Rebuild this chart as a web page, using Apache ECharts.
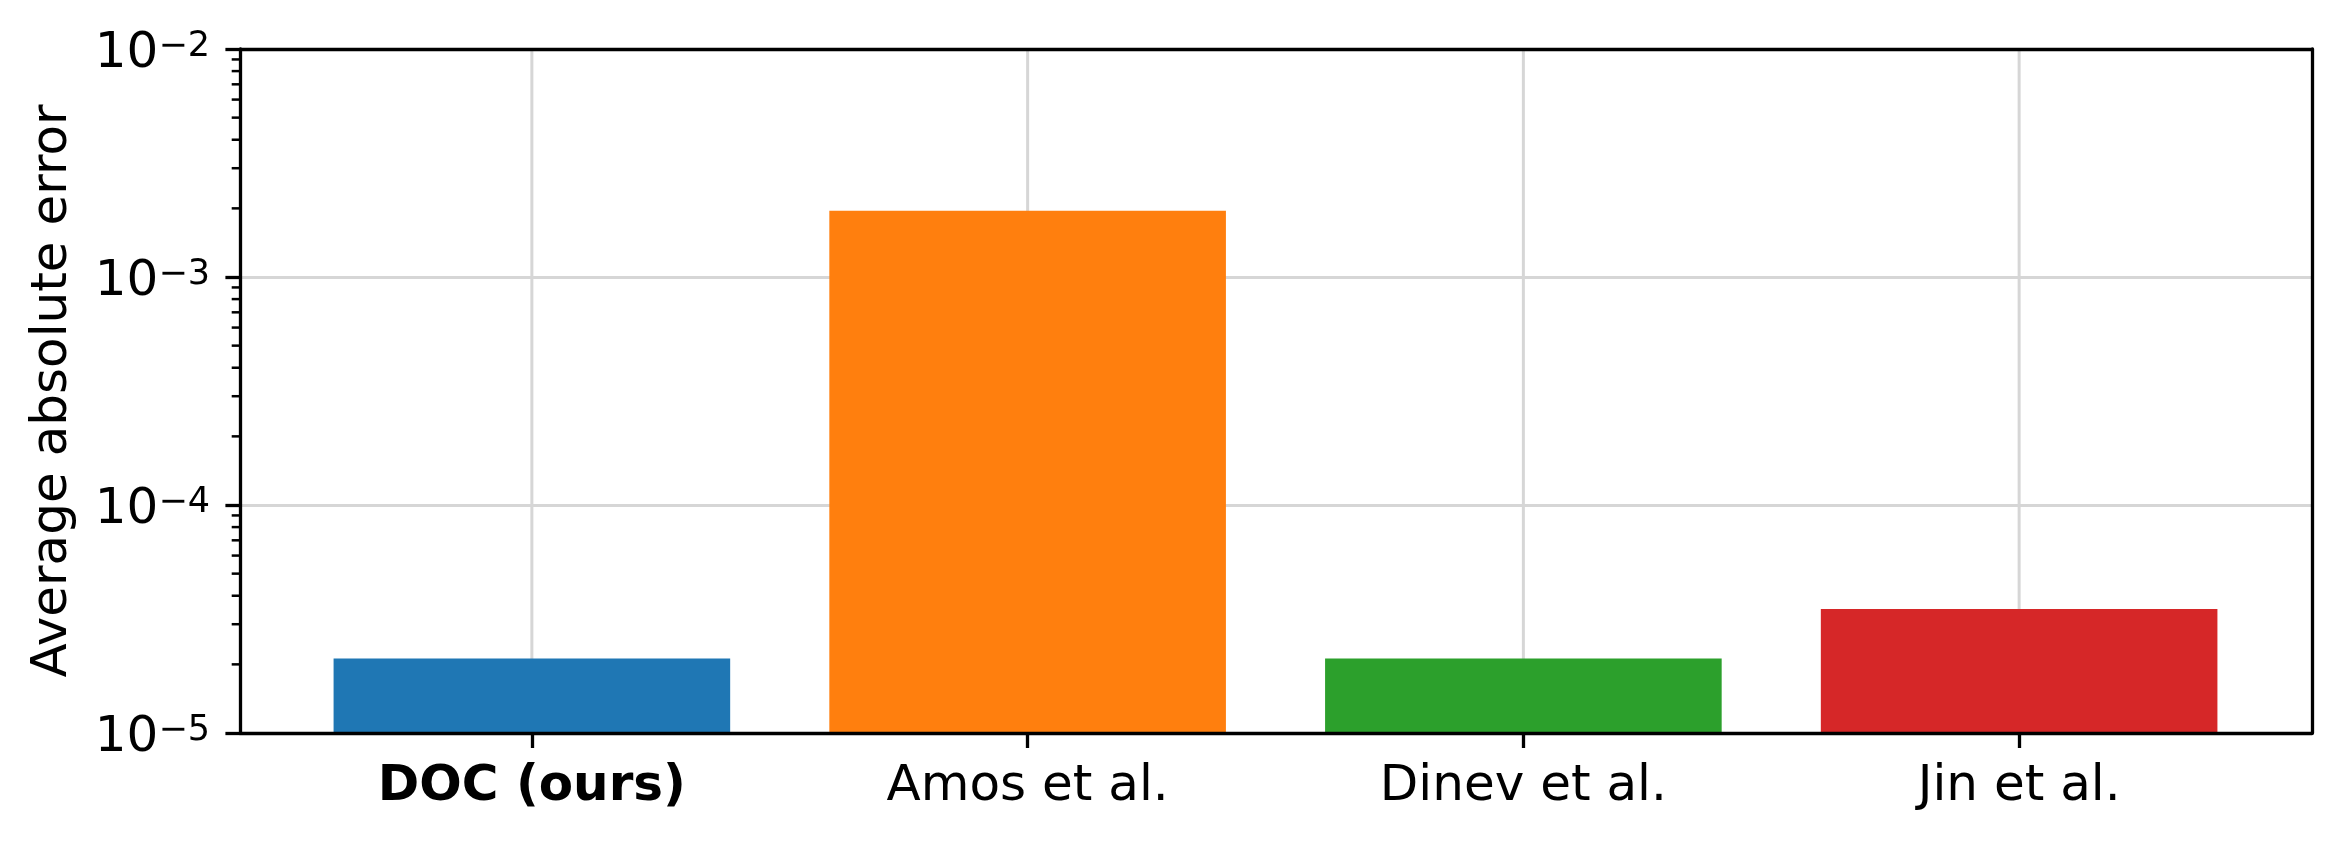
<!DOCTYPE html>
<html><head><meta charset="utf-8">
<script src="https://cdn.jsdelivr.net/npm/echarts@6/dist/echarts.min.js"></script>
<style>html,body{margin:0;padding:0;background:#fff}#c{width:2342px;height:841px}</style>
</head><body><div id="c"></div>
<script>
// ---- data ----
const categories = ['DOC (ours)', 'Amos et al.', 'Dinev et al.', 'Jin et al.'];
const boldCategory = 'DOC (ours)';
const errors = [2.12e-5, 1.95e-3, 2.12e-5, 3.50e-5];
const barColors = ['#1f77b4', '#ff7f0e', '#2ca02c', '#d62728'];
const yMin = 1e-5;
const yMax = 1e-2;
const minorTickValues = [
  2e-5, 3e-5, 4e-5, 5e-5, 6e-5, 7e-5, 8e-5, 9e-5,
  2e-4, 3e-4, 4e-4, 5e-4, 6e-4, 7e-4, 8e-4, 9e-4,
  2e-3, 3e-3, 4e-3, 5e-3, 6e-3, 7e-3, 8e-3, 9e-3
];
const yAxisTitle = 'Average absolute error';

// ---- chart ----
const FONT = 'DejaVu Sans';
const chart = echarts.init(document.getElementById('c'), null, {renderer: 'canvas'});
const spine = {show: true, onZero: false, lineStyle: {color: '#000', width: 3.3}};
const off = {show: false};

const option = {
  animation: false,
  backgroundColor: '#fff',
  grid: [
    {left: 240, top: 49, width: 2072, height: 684},
    {left: 284, top: 49, width: 1983, height: 684}
  ],
  xAxis: [
    {gridIndex: 0, type: 'value', min: 0, max: 1, position: 'bottom', z: 10,
     axisLine: spine, axisTick: off, axisLabel: off, splitLine: off},
    {gridIndex: 0, type: 'value', min: 0, max: 1, position: 'top', z: 10,
     axisLine: spine, axisTick: off, axisLabel: off, splitLine: off},
    {gridIndex: 1, type: 'category', position: 'bottom',
     data: categories.map(c => c === boldCategory
        ? {value: c, textStyle: {fontWeight: 'bold'}} : c),
     axisLine: off,
     axisTick: {show: true, alignWithLabel: true, length: 15, lineStyle: {color: '#000', width: 3.3}},
     axisLabel: {fontFamily: FONT, fontSize: 50, color: '#000', margin: 29, interval: 0},
     splitLine: off}
  ],
  yAxis: [
    {gridIndex: 0, type: 'log', logBase: 10, min: yMin, max: yMax, position: 'left',
     axisLine: spine,
     axisTick: {show: true, length: 14.6, lineStyle: {color: '#000', width: 3.3}},
     minorTick: off,
     splitLine: {show: true, lineStyle: {color: '#d6d6d6', width: 3}},
     axisLabel: {
       margin: 30, color: '#000', fontFamily: FONT, padding: [10, 0, 0, 0],
       formatter: v => '{b|10}{s|\u2212' + Math.abs(Math.round(Math.log10(v))) + '}',
       rich: {
         b: {fontFamily: FONT, fontSize: 50, lineHeight: 50, color: '#000'},
         s: {fontFamily: FONT, fontSize: 35, lineHeight: 20, verticalAlign: 'top', color: '#000'}
       }
     },
     name: yAxisTitle, nameLocation: 'middle', nameGap: 162,
     nameTextStyle: {fontFamily: FONT, fontSize: 50, color: '#000'}},
    {gridIndex: 0, type: 'value', min: 0, max: 1, position: 'right', z: 10,
     axisLine: spine, axisTick: off, axisLabel: off, splitLine: off},
    {gridIndex: 1, type: 'log', logBase: 10, min: yMin, max: yMax, show: false}
  ],
  series: [
    { // vertical grid lines at category positions
      type: 'custom', xAxisIndex: 2, yAxisIndex: 2, z: 1, silent: true,
      data: categories.map((c, i) => [i, yMax]),
      renderItem: (params, api) => {
        const cs = params.coordSys;
        const x = api.coord([api.value(0), yMax])[0];
        return {type: 'line', shape: {x1: x, y1: cs.y, x2: x, y2: cs.y + cs.height},
                style: {stroke: '#d6d6d6', lineWidth: 3}};
      }
    },
    { // bars
      type: 'custom', xAxisIndex: 2, yAxisIndex: 2, z: 2, silent: true,
      data: errors.map((v, i) => [i, v]),
      renderItem: (params, api) => {
        const cs = params.coordSys;
        const i = api.value(0);
        const top = api.coord([i, api.value(1)]);
        const base = api.coord([i, yMin]);
        const w = cs.width / categories.length * 0.8;
        return {type: 'rect',
                shape: {x: top[0] - w / 2, y: top[1], width: w, height: base[1] - top[1]},
                style: {fill: barColors[i]}};
      }
    },
    { // minor ticks of the log axis
      type: 'custom', xAxisIndex: 0, yAxisIndex: 0, z: 3, silent: true, clip: false,
      data: minorTickValues.map(v => [0, v]),
      renderItem: (params, api) => {
        const cs = params.coordSys;
        const y = api.coord([0, api.value(1)])[1];
        return {type: 'line', shape: {x1: cs.x - 8.3, y1: y, x2: cs.x, y2: y},
                style: {stroke: '#000', lineWidth: 2.5}};
      }
    }
  ]
};
chart.setOption(option);
</script>
</body></html>
